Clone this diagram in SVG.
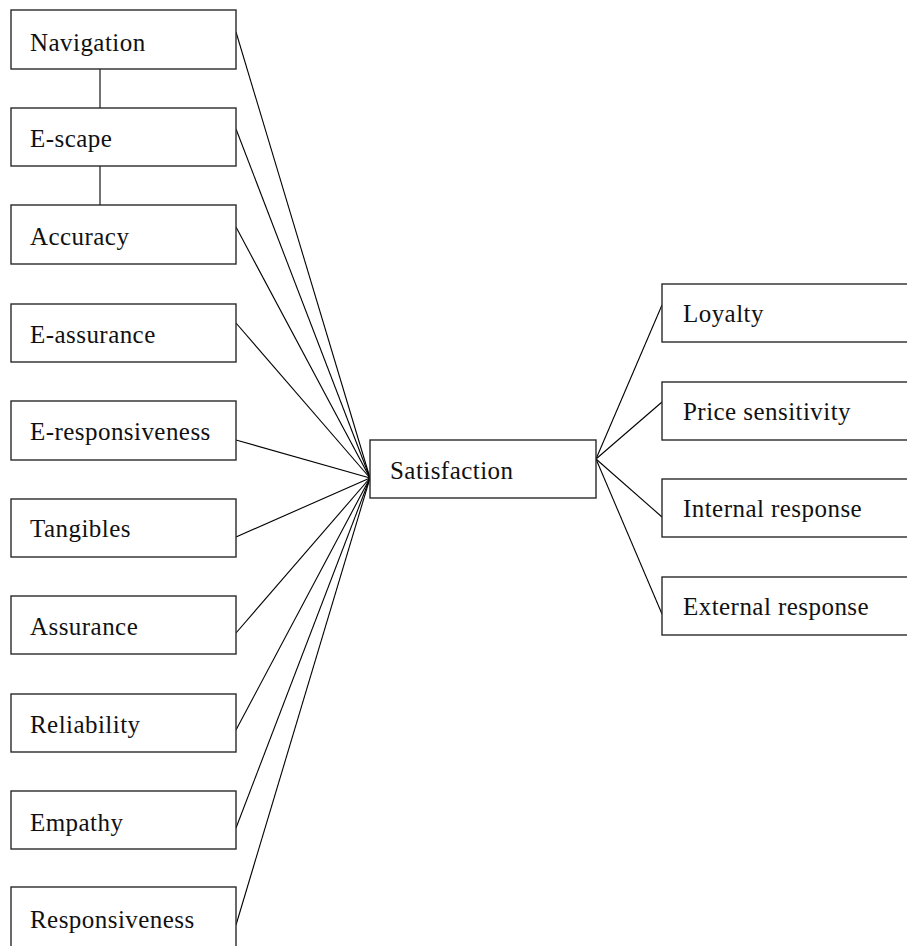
<svg xmlns="http://www.w3.org/2000/svg" width="907" height="946" viewBox="0 0 907 946">
  <style>
    .box { fill: #ffffff; stroke: #2a2a2a; stroke-width: 1.4; }
    .lbl { font-family: "Liberation Serif", "Times New Roman", serif; font-size: 25px; letter-spacing: 0.45px; fill: #111111; }
    .edge { stroke: #000000; stroke-width: 1.1; fill: none; }
  </style>
  <rect width="907" height="946" fill="#ffffff"/>

  <!-- connectors -->
  <g id="connectors">
    <line class="edge" x1="100" y1="69" x2="100" y2="108"/>
    <line class="edge" x1="100" y1="166" x2="100" y2="205"/>
    <line class="edge" x1="236" y1="32" x2="370" y2="478"/>
    <line class="edge" x1="236" y1="129" x2="370" y2="478"/>
    <line class="edge" x1="236" y1="227" x2="370" y2="478"/>
    <line class="edge" x1="236" y1="323" x2="370" y2="478"/>
    <line class="edge" x1="236" y1="440" x2="370" y2="478"/>
    <line class="edge" x1="236" y1="537" x2="370" y2="478"/>
    <line class="edge" x1="236" y1="633" x2="370" y2="478"/>
    <line class="edge" x1="236" y1="730" x2="370" y2="478"/>
    <line class="edge" x1="236" y1="828" x2="370" y2="478"/>
    <line class="edge" x1="236" y1="925" x2="370" y2="478"/>
    <line class="edge" x1="596" y1="459" x2="662" y2="305"/>
    <line class="edge" x1="596" y1="459" x2="662" y2="402"/>
    <line class="edge" x1="596" y1="459" x2="662" y2="517"/>
    <line class="edge" x1="596" y1="459" x2="662" y2="614"/>
  </g>

  <!-- left column -->
  <g id="navigation"><rect class="box" x="11" y="10" width="225" height="59"/><text class="lbl" x="30" y="51">Navigation</text></g>
  <g id="e-scape"><rect class="box" x="11" y="108" width="225" height="58"/><text class="lbl" x="30" y="147">E-scape</text></g>
  <g id="accuracy"><rect class="box" x="11" y="205" width="225" height="59"/><text class="lbl" x="30" y="245">Accuracy</text></g>
  <g id="e-assurance"><rect class="box" x="11" y="304" width="225" height="58"/><text class="lbl" x="30" y="343">E-assurance</text></g>
  <g id="e-responsiveness"><rect class="box" x="11" y="401" width="225" height="59"/><text class="lbl" x="30" y="440">E-responsiveness</text></g>
  <g id="tangibles"><rect class="box" x="11" y="499" width="225" height="58"/><text class="lbl" x="30" y="537">Tangibles</text></g>
  <g id="assurance"><rect class="box" x="11" y="596" width="225" height="58"/><text class="lbl" x="30" y="635">Assurance</text></g>
  <g id="reliability"><rect class="box" x="11" y="694" width="225" height="58"/><text class="lbl" x="30" y="733">Reliability</text></g>
  <g id="empathy"><rect class="box" x="11" y="791" width="225" height="58"/><text class="lbl" x="30" y="831">Empathy</text></g>
  <g id="responsiveness"><rect class="box" x="11" y="887" width="225" height="62"/><text class="lbl" x="30" y="928">Responsiveness</text></g>

  <!-- centre -->
  <g id="satisfaction"><rect class="box" x="370" y="440" width="226" height="58"/><text class="lbl" x="390" y="479">Satisfaction</text></g>

  <!-- right column -->
  <g id="loyalty"><rect class="box" x="662" y="284" width="250" height="58"/><text class="lbl" x="683" y="322">Loyalty</text></g>
  <g id="price-sensitivity"><rect class="box" x="662" y="382" width="250" height="58"/><text class="lbl" x="683" y="420">Price sensitivity</text></g>
  <g id="internal-response"><rect class="box" x="662" y="479" width="250" height="58"/><text class="lbl" x="683" y="517">Internal response</text></g>
  <g id="external-response"><rect class="box" x="662" y="577" width="250" height="58"/><text class="lbl" x="683" y="615">External response</text></g>
</svg>
